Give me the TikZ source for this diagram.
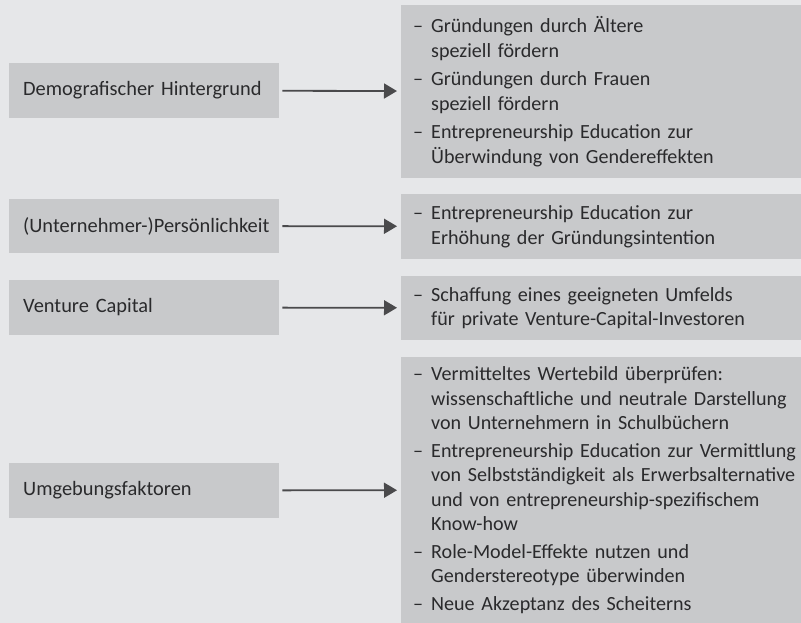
\documentclass[tikz,border=0pt]{standalone}
\usepackage{fontspec}
\setmainfont{Carlito}
\usetikzlibrary{arrows.meta}

\definecolor{bggray}{HTML}{E6E7E9}
\definecolor{boxgray}{HTML}{C8C9CB}
\definecolor{linegray}{HTML}{4A4A4C}
\definecolor{textgray}{HTML}{2A2A2C}
\newcommand{\dash}{\makebox[18pt][l]{–}}
\newcommand{\ind}{\hspace*{18pt}}

\begin{document}
\begin{tikzpicture}[x=1pt,y=-1pt]
\tikzstyle{factor} = [rectangle, fill=boxgray, text=textgray, anchor=west,
minimum width=270pt, minimum height=55pt, inner xsep=14pt, text width=242pt,
align=left, font=\fontsize{20.4}{24.5}\selectfont]
\tikzstyle{measure} = [rectangle, fill=boxgray, text=textgray, anchor=west,
minimum width=450pt, inner xsep=12pt, text width=426pt,
align=left, font=\fontsize{20.1}{24.5}\selectfont]
\tikzstyle{line} = [draw=linegray, line width=1.8pt,
-{Triangle[length=13pt,width=15pt]}, shorten <=3pt, shorten >=4pt];

\fill[bggray] (0,0) rectangle (801,623);
\useasboundingbox (0,0) rectangle (801,623);

% left column
\node [factor] (demo) at (9,90.5) {\mbox{Demografischer Hintergrund}};
\node [factor, minimum height=54pt] (pers) at (9,226) {\mbox{(Unternehmer-)Persönlichkeit}};
\node [factor] (vc) at (9,307.5) {\mbox{Venture Capital}};
\node [factor] (umg) at (9,490.5) {\mbox{Umgebungsfaktoren}};

% right column
\node [measure, minimum height=173pt] (demom) at (401,91.5) {%
\dash Gründungen durch Ältere\\
\ind speziell fördern\\[4pt]
\dash Gründungen durch Frauen\\
\ind speziell fördern\\[4pt]
\dash Entrepreneurship Education zur\\
\ind Überwindung von Gendereffekten};
\node [measure, minimum height=65pt] (persm) at (401,226.5) {%
\dash Entrepreneurship Education zur\\
\ind Erhöhung der Gründungsintention};
\node [measure, minimum height=64pt] (vcm) at (401,308) {%
\dash Schaffung eines geeigneten Umfelds\\
\ind für private Venture-Capital-Investoren};
\node [measure, minimum height=266pt] (umgm) at (401,490) {%
\dash Vermitteltes Wertebild überprüfen:\\
\ind wissenschaftliche und neutrale Darstellung\\
\ind von Unternehmern in Schulbüchern\\[3pt]
\dash Entrepreneurship Education zur Vermittlung\\
\ind von Selbstständigkeit als Erwerbsalternative\\
\ind und von entrepreneurship-spezifischem\\
\ind Know-how\\[3pt]
\dash Role-Model-Effekte nutzen und\\
\ind Genderstereotype überwinden\\[3pt]
\dash Neue Akzeptanz des Scheiterns};

\tikzstyle{every path}=[line]
\path (demo) -- (demom);
\path (pers) -- (persm);
\path (vc) -- (vcm);
\path (umg) -- (umgm);
\end{tikzpicture}
\end{document}
